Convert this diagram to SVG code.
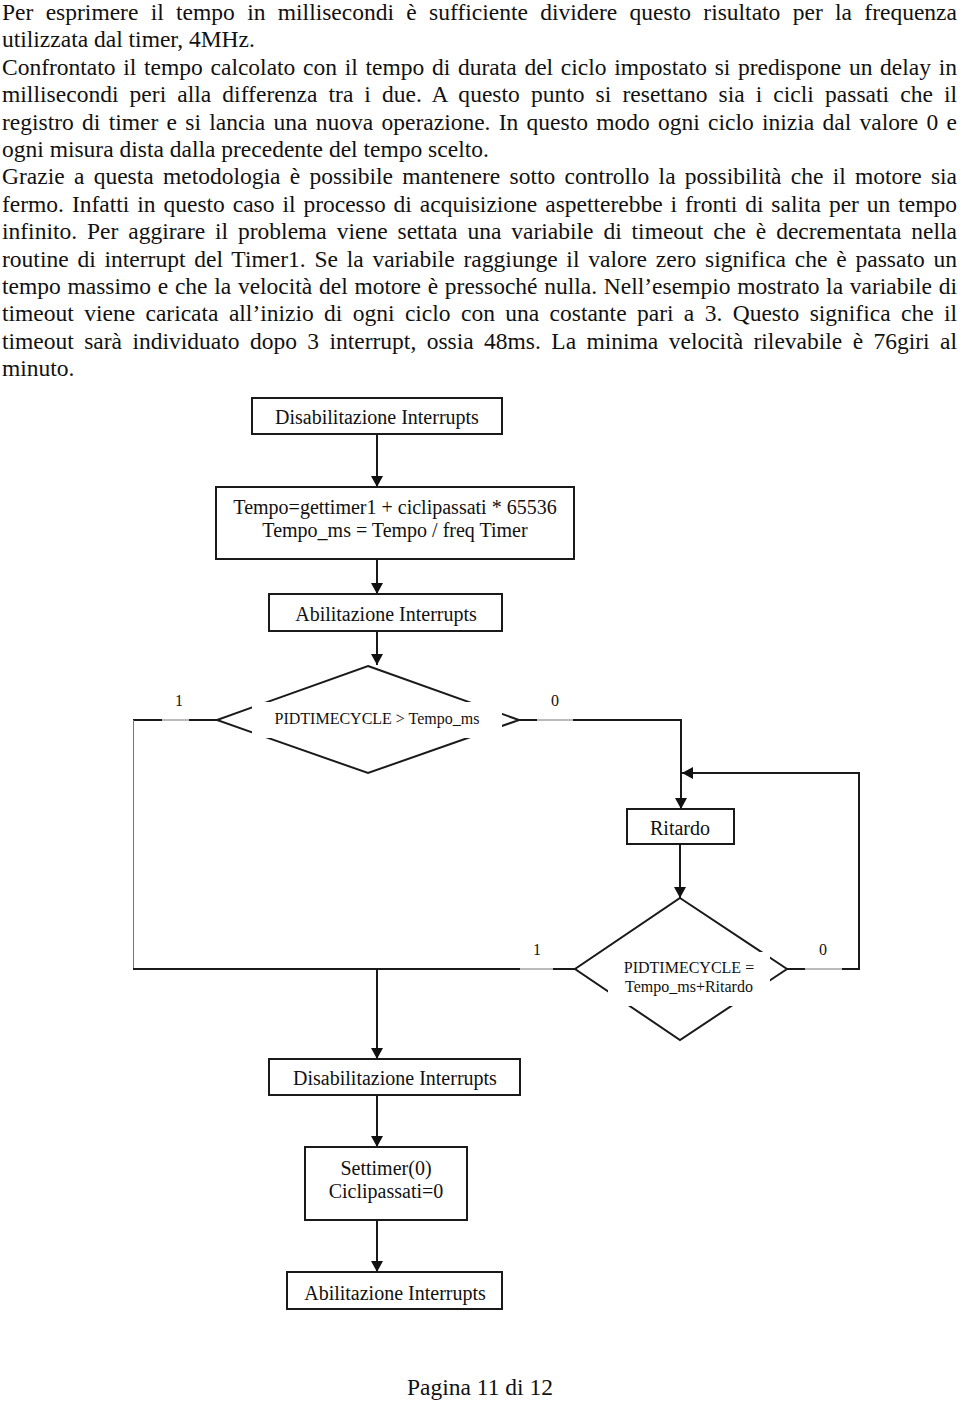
<svg xmlns="http://www.w3.org/2000/svg" width="960" height="1402" viewBox="0 0 960 1402">
<style>
.body{font-family:"Liberation Serif","Times New Roman",serif;font-size:23.5px;fill:#111}
.bx{fill:#fff;stroke:#1a1a1a;stroke-width:2}
.t20{font-family:"Liberation Serif","Times New Roman",serif;font-size:20px;fill:#111;text-anchor:middle}
.t16{font-family:"Liberation Serif","Times New Roman",serif;font-size:16px;fill:#111;text-anchor:middle}
.ln{fill:none;stroke:#1a1a1a;stroke-width:2}
.thin{fill:none;stroke:#777;stroke-width:1}
.arr{marker-end:url(#ah)}
</style>
<defs>
<marker id="ah" viewBox="0 0 11 12" refX="11" refY="6" markerWidth="11" markerHeight="12" markerUnits="userSpaceOnUse" orient="auto">
<path d="M0,0 L11,6 L0,12 z" fill="#111"/>
</marker>
</defs>
<rect width="960" height="1402" fill="#fff"/>
<g id="paragraph">
<text class="body" x="2" y="20" word-spacing="6.44" textLength="955" lengthAdjust="spacing">Per esprimere il tempo in millisecondi è sufficiente dividere questo risultato per la frequenza</text>
<text class="body" x="2" y="47.4">utilizzata dal timer, 4MHz.</text>
<text class="body" x="2" y="74.8" word-spacing="1.84" textLength="955" lengthAdjust="spacing">Confrontato il tempo calcolato con il tempo di durata del ciclo impostato si predispone un delay in</text>
<text class="body" x="2" y="102.2" word-spacing="5.11" textLength="955" lengthAdjust="spacing">millisecondi peri alla differenza tra i due. A questo punto si resettano sia i cicli passati che il</text>
<text class="body" x="2" y="129.6" word-spacing="2.40" textLength="955" lengthAdjust="spacing">registro di timer e si lancia una nuova operazione. In questo modo ogni ciclo inizia dal valore 0 e</text>
<text class="body" x="2" y="157">ogni misura dista dalla precedente del tempo scelto.</text>
<text class="body" x="2" y="184.4" word-spacing="3.41" textLength="955" lengthAdjust="spacing">Grazie a questa metodologia è possibile mantenere sotto controllo la possibilità che il motore sia</text>
<text class="body" x="2" y="211.8" word-spacing="2.05" textLength="955" lengthAdjust="spacing">fermo. Infatti in questo caso il processo di acquisizione aspetterebbe i fronti di salita per un tempo</text>
<text class="body" x="2" y="239.2" word-spacing="4.03" textLength="955" lengthAdjust="spacing">infinito. Per aggirare il problema viene settata una variabile di timeout che è decrementata nella</text>
<text class="body" x="2" y="266.6" word-spacing="2.87" textLength="955" lengthAdjust="spacing">routine di interrupt del Timer1. Se la variabile raggiunge il valore zero significa che è passato un</text>
<text class="body" x="2" y="294" word-spacing="0.84" textLength="955" lengthAdjust="spacing">tempo massimo e che la velocità del motore è pressoché nulla. Nell’esempio mostrato la variabile di</text>
<text class="body" x="2" y="321.4" word-spacing="4.49" textLength="955" lengthAdjust="spacing">timeout viene caricata all’inizio di ogni ciclo con una costante pari a 3. Questo significa che il</text>
<text class="body" x="2" y="348.8" word-spacing="4.53" textLength="955" lengthAdjust="spacing">timeout sarà individuato dopo 3 interrupt, ossia 48ms. La minima velocità rilevabile è 76giri al</text>
<text class="body" x="2" y="376.2">minuto.</text>
</g>
<g id="connectors">
<path class="ln arr" d="M377,434 V487"/>
<path class="ln arr" d="M377,559 V594"/>
<path class="ln arr" d="M377,631 V665"/>
<path class="ln" d="M519,720 H537"/>
<path class="thin" d="M537,720 H573"/>
<path class="ln arr" d="M573,720 H681 V809"/>
<path class="ln arr" d="M680,844 V898"/>
<path class="ln" d="M787,969 H805"/>
<path class="thin" d="M805,969 H842"/>
<path class="ln arr" d="M842,969 H859 V773 H682"/>
<path class="ln" d="M217,720 H189"/>
<path class="thin" d="M189,720 H162"/>
<path class="ln" d="M162,720 H133"/>
<path class="thin" d="M133.5,720 V969"/>
<path class="ln" d="M133,969 H520"/>
<path class="thin" d="M520,969 H553"/>
<path class="ln" d="M553,969 H575"/>
<path class="ln arr" d="M377,969 V1059"/>
<path class="ln arr" d="M377,1095 V1147"/>
<path class="ln arr" d="M377,1220 V1272"/>
</g>
<g id="n1">
<rect class="bx" x="252" y="398" width="250" height="36"/>
<text class="t20" x="377" y="424">Disabilitazione Interrupts</text>
</g>
<g id="n2">
<rect class="bx" x="216" y="487" width="358" height="72"/>
<text class="t20" x="395" y="514">Tempo=gettimer1 + ciclipassati * 65536</text>
<text class="t20" x="395" y="537">Tempo_ms = Tempo / freq Timer</text>
</g>
<g id="n3">
<rect class="bx" x="269" y="594" width="233" height="37"/>
<text class="t20" x="386" y="621">Abilitazione Interrupts</text>
</g>
<g id="d1">
<polygon class="bx" points="368,666 519,720 368,773 217,720"/>
<rect x="252" y="702" width="250" height="36" fill="#fff"/>
<text class="t16" x="377" y="724">PIDTIMECYCLE &gt; Tempo_ms</text>
<text class="t16" x="179" y="706">1</text>
<text class="t16" x="555" y="706">0</text>
</g>
<g id="n4">
<rect class="bx" x="627" y="809" width="107" height="35"/>
<text class="t20" x="680" y="835">Ritardo</text>
</g>
<g id="d2">
<polygon class="bx" points="680,898 787,969 680,1040 575,969"/>
<rect x="608" y="952" width="162" height="54" fill="#fff"/>
<text class="t16" x="689" y="973">PIDTIMECYCLE =</text>
<text class="t16" x="689" y="992">Tempo_ms+Ritardo</text>
<text class="t16" x="537" y="955">1</text>
<text class="t16" x="823" y="955">0</text>
</g>
<g id="n5">
<rect class="bx" x="269" y="1059" width="251" height="36"/>
<text class="t20" x="395" y="1085">Disabilitazione Interrupts</text>
</g>
<g id="n6">
<rect class="bx" x="305" y="1147" width="162" height="73"/>
<text class="t20" x="386" y="1175">Settimer(0)</text>
<text class="t20" x="386" y="1198">Ciclipassati=0</text>
</g>
<g id="n7">
<rect class="bx" x="287" y="1272" width="215" height="37"/>
<text class="t20" x="395" y="1300">Abilitazione Interrupts</text>
</g>
<text x="480" y="1395" style="font-family:'Liberation Serif','Times New Roman',serif;font-size:23.5px;fill:#111;text-anchor:middle">Pagina 11 di 12</text>
</svg>
